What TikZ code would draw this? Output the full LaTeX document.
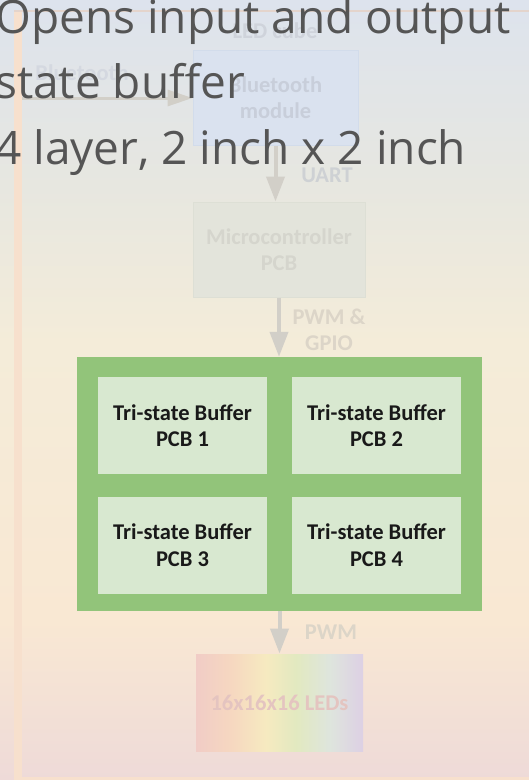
\documentclass[tikz,border=0pt]{standalone}
\usepackage{fontspec}
\setmainfont{Open Sans}
\newfontfamily\labelfont{Carlito}
\usetikzlibrary{arrows.meta}

% page background
\definecolor{bgtop}{RGB}{221,227,237}
\definecolor{bgmid}{RGB}{231,231,224}
\definecolor{bgcream}{RGB}{244,236,217}
\definecolor{bgpeach}{RGB}{249,232,211}
\definecolor{bgbot}{RGB}{238,218,216}
\definecolor{frametop}{RGB}{228,212,204}
\definecolor{frameside}{RGB}{247,224,205}
% faded diagram parts
\definecolor{arrowgray}{RGB}{210,207,200}
\definecolor{btfill}{RGB}{218,226,239}
\definecolor{btdraw}{RGB}{210,220,235}
\definecolor{btlabel}{RGB}{200,206,218}
\definecolor{mcfill}{RGB}{227,228,219}
\definecolor{mcdraw}{RGB}{221,223,213}
\definecolor{mclabel}{RGB}{213,213,205}
\definecolor{toplabel}{RGB}{207,211,219}
\definecolor{sidelabel}{RGB}{212,216,224}
\definecolor{sigblue}{RGB}{206,209,212}
\definecolor{sigcream}{RGB}{220,213,200}
\definecolor{ledlabel}{RGB}{228,196,192}
\definecolor{ledA}{RGB}{241,204,198}
\definecolor{ledB}{RGB}{246,216,192}
\definecolor{ledC}{RGB}{246,234,192}
\definecolor{ledD}{RGB}{226,233,192}
\definecolor{ledE}{RGB}{222,229,221}
\definecolor{ledF}{RGB}{221,208,228}
% buffer block
\definecolor{greenfill}{RGB}{146,196,122}
\definecolor{pcbfill}{RGB}{216,232,208}
\definecolor{pcbtext}{RGB}{25,25,25}
\definecolor{notegray}{RGB}{85,85,85}

% TikZ fits the middle band (25bp..75bp) of a shading to the path
\pgfdeclareverticalshading{pagebg}{100bp}{color(0bp)=(bgbot); color(25bp)=(bgbot); color(35.25bp)=(bgpeach); color(53bp)=(bgcream); color(63bp)=(bgmid); color(75bp)=(bgtop); color(100bp)=(bgtop)}
\pgfdeclarehorizontalshading{ledbow}{100bp}{color(0bp)=(ledA); color(25bp)=(ledA); color(36bp)=(ledB); color(46bp)=(ledC); color(55bp)=(ledD); color(65bp)=(ledE); color(75bp)=(ledF); color(100bp)=(ledF)}

\begin{document}
\begin{tikzpicture}[x=1pt,y=-1pt,
  labeltype/.style={font=\labelfont\bfseries\fontsize{22.5}{26.5}\selectfont},
  ghostbox/.style={labeltype, inner sep=0pt, align=center, line width=1pt},
  ghostlabel/.style={labeltype, inner sep=0pt, align=center},
  ghostarrow/.style={draw=arrowgray, line width=4pt, -{Triangle[length=25pt,width=18pt]}},
  pcbbox/.style={labeltype, fill=pcbfill, text=pcbtext, inner sep=0pt, align=center,
    minimum width=169pt, minimum height=97pt},
  notetext/.style={anchor=base west, inner sep=0pt, text=notegray,
    font=\fontsize{46}{55}\selectfont}]
\useasboundingbox (0,0) rectangle (529,780);
\clip (0,0) rectangle (529,780);

% background and frame
\fill[shading=pagebg] (0,0) rectangle (529,780);
\fill[frameside] (14,10) rectangle (22,779);
\fill[frametop] (14,9.5) rectangle (529,12);
\fill[frameside] (14,777) rectangle (529,779.5);

% faded block diagram
\node[ghostlabel, text=toplabel] (cube) at (275,31) {LED cube};
\node[ghostlabel, text=sidelabel] (btname) at (82,73) {Bluetooth};
\node[ghostbox, fill=btfill, draw=btdraw, text=btlabel,
  minimum width=165pt, minimum height=95pt] (bt) at (275.5,97.5) {Bluetooth\\module};
\node[ghostbox, fill=mcfill, draw=mcdraw, text=mclabel,
  minimum width=172pt, minimum height=95pt] (mcu) at (279,249.5) {Microcontroller\\PCB};
\node[ghostbox, shading=ledbow, text=ledlabel,
  minimum width=167pt, minimum height=97pt] (leds) at (279.5,702.5) {16x16x16 LEDs};

% tri-state buffer block
\node[fill=greenfill, minimum width=405pt, minimum height=254pt, inner sep=0pt] (bufgroup) at (279.5,484) {};
\node[pcbbox] (buf1) at (182.5,425.5) {Tri-state Buffer\\PCB 1};
\node[pcbbox] (buf2) at (376.5,425.5) {Tri-state Buffer\\PCB 2};
\node[pcbbox] (buf3) at (182.5,545) {Tri-state Buffer\\PCB 3};
\node[pcbbox] (buf4) at (376.5,545) {Tri-state Buffer\\PCB 4};

% signal arrows
\coordinate (btin) at (22,98);
\draw[ghostarrow, line width=3pt, -{Triangle[length=25pt,width=16pt]}] (btin) -- (btin -| bt.west);
\draw[ghostarrow] (bt.south) -- (bt.south |- mcu.north);
\draw[ghostarrow] (mcu.south) -- (mcu.south |- bufgroup.north);
\draw[ghostarrow] (bufgroup.south) -- (leds.north);
\node[ghostlabel, text=sigblue] (uart) at (327,175) {UART};
\node[ghostlabel, text=sigcream] (pwmgpio) at (329,330) {PWM \&\\GPIO};
\node[ghostlabel, text=sigcream] (pwm) at (331,632) {PWM};

% overlaid note
\node[notetext] (note1) at (-5,33) {Opens input and output};
\node[notetext] (note2) at (-5,98.5) {state buffer};
\node[notetext] (note3) at (-5,164) {4 layer, 2 inch x 2 inch};
\end{tikzpicture}
\end{document}
